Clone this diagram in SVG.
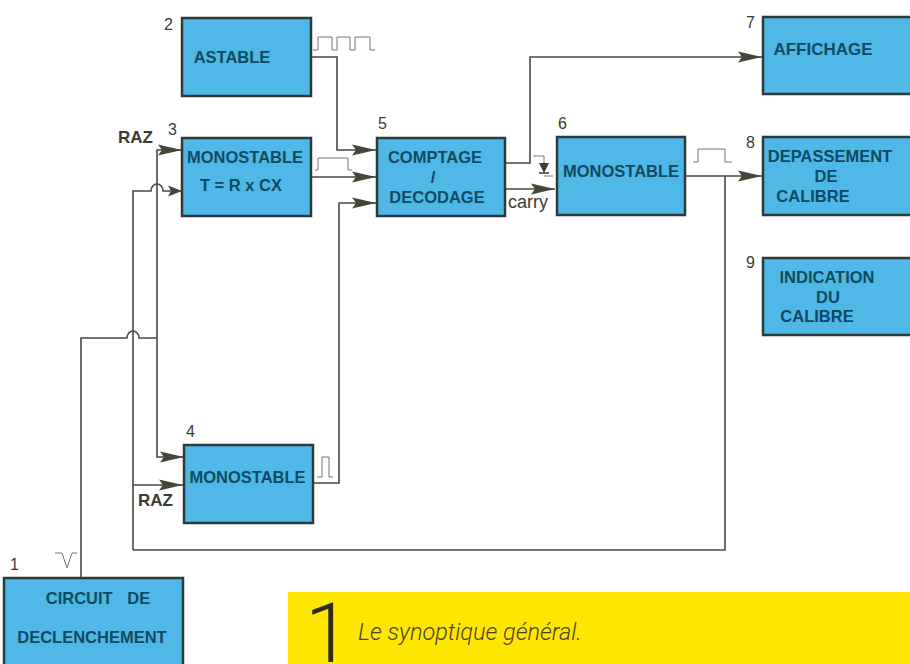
<svg xmlns="http://www.w3.org/2000/svg" width="910" height="664" viewBox="0 0 910 664">
<style>
text{font-family:"Liberation Sans",Arial,sans-serif}
.b{fill:#4fb8e6;stroke:#2c3a3c;stroke-width:2.5}
.t{font-size:16.500px;font-weight:700;fill:#0f4a63;text-anchor:middle}
.n{font-size:16px;fill:#3a3a34}
.r{font-size:17px;fill:#3a3a34;font-weight:700}
.c{fill:none;stroke:#4a4a40;stroke-width:1.600}
.s{fill:none;stroke:#77776d;stroke-width:1}
</style>
<defs>
<marker id="a" markerUnits="userSpaceOnUse" markerWidth="26" markerHeight="12" refX="24" refY="6" orient="auto"><path d="M0 0.500L24 6L0 11.500L4 6Z" fill="#45453a"/></marker>
<marker id="m" markerUnits="userSpaceOnUse" markerWidth="16" markerHeight="12" refX="14" refY="6" orient="auto"><path d="M0 0.500L14 6L0 11.500L3 6Z" fill="#45453a"/></marker>
</defs>
<rect width="910" height="664" fill="#fff"/>
<g id="connectors">
<path class="c" d="M81 578V338H127A6 7 0 0 1 139 338H157"/>
<path class="c" d="M133 550V191H151A6 7 0 0 1 163 191H182" marker-end="url(#m)"/>
<path class="c" d="M157 338V150H182" marker-end="url(#a)"/>
<path class="c" d="M157 338V457H184" marker-end="url(#a)"/>
<path class="c" d="M133 485H183" marker-end="url(#a)"/>
<path class="c" d="M133 550H725V176"/>
<path class="c" d="M311 57H337V150H376" marker-end="url(#a)"/>
<path class="c" d="M312 177H376" marker-end="url(#a)"/>
<path class="c" d="M313 483H339V203H376" marker-end="url(#a)"/>
<path class="c" d="M505 163H530V57H762" marker-end="url(#a)"/>
<path class="c" d="M505 189H555" marker-end="url(#a)"/>
<path class="c" d="M686 176H762" marker-end="url(#a)"/>
<path class="s" d="M313 50H318V37H332V50H337V37H350V50H355V37H370V50H375"/>
<path class="s" d="M315 170H318V158H348V170H352"/>
<path class="s" d="M693 162H698V149H725V162H732"/>
<path class="s" d="M317 477H322V457H329V477H333"/>
<path class="s" d="M55 553H62L67 568L72 553H77"/>
<path class="s" d="M533 156H544V163M544 176H553"/>
<path d="M539 163H549L544 173Z" fill="#3a3a30"/><path d="M539 173H549" stroke="#3a3a30" stroke-width="1.500"/>
</g>
<g id="n1"><rect class="b" x="4" y="578" width="179" height="90"/><text class="t" x="98" y="604" style="word-spacing:10px">CIRCUIT DE</text><text class="t" x="92" y="643">DECLENCHEMENT</text><text class="n" x="10" y="570">1</text></g>
<g id="n2"><rect class="b" x="182" y="18" width="129" height="78"/><text class="t" x="232" y="63">ASTABLE</text><text class="n" x="164" y="30">2</text></g>
<g id="n3"><rect class="b" x="182" y="138" width="129" height="78"/><text class="t" x="245" y="163">MONOSTABLE</text><text class="t" x="241" y="191">T = R x CX</text><text class="n" x="168" y="135">3</text><text class="r" x="118" y="143">RAZ</text></g>
<g id="n4"><rect class="b" x="184" y="445" width="129" height="78"/><text class="t" x="247.500" y="483">MONOSTABLE</text><text class="n" x="186" y="437">4</text><text class="r" x="138" y="506">RAZ</text></g>
<g id="n5"><rect class="b" x="377" y="138" width="128" height="78"/><text class="t" x="435" y="163">COMPTAGE</text><text class="t" x="433" y="183">/</text><text class="t" x="437" y="203">DECODAGE</text><text class="n" x="378" y="129">5</text><text x="508" y="208" font-size="18" fill="#3a3a34">carry</text></g>
<g id="n6"><rect class="b" x="557" y="137" width="128" height="78"/><text class="t" x="621" y="177">MONOSTABLE</text><text class="n" x="558" y="129">6</text></g>
<g id="n7"><rect class="b" x="763" y="17" width="150" height="77"/><text class="t" x="823" y="55" style="font-size:17px">AFFICHAGE</text><text class="n" x="746" y="28">7</text></g>
<g id="n8"><rect class="b" x="763" y="137" width="150" height="78"/><text class="t" x="830" y="162">DEPASSEMENT</text><text class="t" x="826" y="182">DE</text><text class="t" x="813" y="202">CALIBRE</text><text class="n" x="746" y="148">8</text></g>
<g id="n9"><rect class="b" x="763" y="258" width="150" height="77"/><text class="t" x="827" y="283">INDICATION</text><text class="t" x="828" y="303">DU</text><text class="t" x="817" y="322">CALIBRE</text><text class="n" x="746" y="268">9</text></g>
<g id="caption"><rect x="288" y="592" width="622" height="72" fill="#ffe600"/><text x="305" y="662" font-size="83" fill="#2a2a20" style="font-family:Roboto,sans-serif;font-weight:300">1</text><text x="358" y="640" font-size="23.500" font-style="italic" fill="#4a4520" style="font-family:Roboto,sans-serif;font-weight:300">Le synoptique général.</text></g>
</svg>
